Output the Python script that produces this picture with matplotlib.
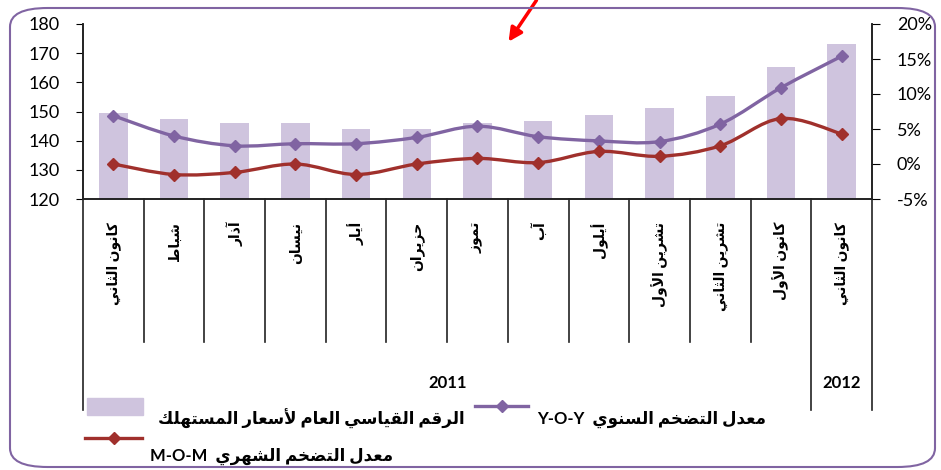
import matplotlib
matplotlib.use("Agg")
import matplotlib.pyplot as plt
from matplotlib.path import Path
from matplotlib.patches import PathPatch, Rectangle, FancyBboxPatch
from matplotlib.lines import Line2D

plt.rcParams['font.family'] = ['Lato', 'DejaVu Sans']

# data
months = ["كانون الثاني", "شباط", "آذار", "نيسان", "أيار", "حزيران", "تموز",
          "آب", "أيلول", "تشرين الأول", "تشرين الثاني", "كانون الأول", "كانون الثاني"]
years = ["2011", "2012"]
cpi = [149.4, 147.4, 146.0, 146.0, 144.1, 144.1, 146.0, 146.7, 148.7, 151.3, 155.3, 165.2, 173.1]
yoy = [6.9, 4.0, 2.6, 2.9, 2.9, 3.8, 5.4, 3.9, 3.3, 3.2, 5.7, 10.9, 15.4]
mom = [0.0, -1.5, -1.2, 0.0, -1.5, 0.0, 0.8, 0.2, 1.8, 1.1, 2.6, 6.5, 4.3]

lbl_cpi = "الرقم القياسي العام لأسعار المستهلك"
lbl_yoy = "معدل التضخم السنوي"
lbl_mom = "معدل التضخم الشهري"

# --- tiny arabic shaper (matplotlib has no shaping of its own) ---
FORMS = {
    'ا': (0xFE8D, 0xFE8E), 'أ': (0xFE83, 0xFE84), 'آ': (0xFE81, 0xFE82), 'إ': (0xFE87, 0xFE88),
    'د': (0xFEA9, 0xFEAA), 'ذ': (0xFEAB, 0xFEAC), 'ر': (0xFEAD, 0xFEAE), 'ز': (0xFEAF, 0xFEB0),
    'و': (0xFEED, 0xFEEE), 'ة': (0xFE93, 0xFE94),
    'ب': (0xFE8F, 0xFE90, 0xFE91, 0xFE92), 'ت': (0xFE95, 0xFE96, 0xFE97, 0xFE98),
    'ث': (0xFE99, 0xFE9A, 0xFE9B, 0xFE9C), 'ج': (0xFE9D, 0xFE9E, 0xFE9F, 0xFEA0),
    'ح': (0xFEA1, 0xFEA2, 0xFEA3, 0xFEA4), 'خ': (0xFEA5, 0xFEA6, 0xFEA7, 0xFEA8),
    'س': (0xFEB1, 0xFEB2, 0xFEB3, 0xFEB4), 'ش': (0xFEB5, 0xFEB6, 0xFEB7, 0xFEB8),
    'ض': (0xFEBD, 0xFEBE, 0xFEBF, 0xFEC0), 'ط': (0xFEC1, 0xFEC2, 0xFEC3, 0xFEC4),
    'ع': (0xFEC9, 0xFECA, 0xFECB, 0xFECC), 'ف': (0xFED1, 0xFED2, 0xFED3, 0xFED4),
    'ق': (0xFED5, 0xFED6, 0xFED7, 0xFED8), 'ك': (0xFED9, 0xFEDA, 0xFEDB, 0xFEDC),
    'ل': (0xFEDD, 0xFEDE, 0xFEDF, 0xFEE0), 'م': (0xFEE1, 0xFEE2, 0xFEE3, 0xFEE4),
    'ن': (0xFEE5, 0xFEE6, 0xFEE7, 0xFEE8), 'ه': (0xFEE9, 0xFEEA, 0xFEEB, 0xFEEC),
    'ي': (0xFEF1, 0xFEF2, 0xFEF3, 0xFEF4),
}
LAM_ALEF = {'آ': (0xFEF5, 0xFEF6), 'أ': (0xFEF7, 0xFEF8), 'إ': (0xFEF9, 0xFEFA), 'ا': (0xFEFB, 0xFEFC)}


def ar(text):
    units = []
    i = 0
    while i < len(text):
        c = text[i]
        if c == 'ل' and i + 1 < len(text) and text[i + 1] in LAM_ALEF:
            units.append(LAM_ALEF[text[i + 1]])
            i += 2
        else:
            units.append(FORMS.get(c, c))
            i += 1
    out = []
    for k, u in enumerate(units):
        if isinstance(u, str):
            out.append(u)
            continue
        prev = units[k - 1] if k > 0 else None
        nxt = units[k + 1] if k + 1 < len(units) else None
        jp = isinstance(prev, tuple) and len(prev) == 4
        jn = len(u) == 4 and isinstance(nxt, tuple)
        if jp and jn:
            cp = u[3]
        elif jp:
            cp = u[1]
        elif jn:
            cp = u[2]
        else:
            cp = u[0]
        out.append(chr(cp))
    return "".join(out)[::-1]


W, H = 941, 470
fig = plt.figure(figsize=(W / 100, H / 100), dpi=100)


def fx(px):
    return px / W


def fy(py):
    return 1 - py / H


ax = fig.add_axes([fx(83), fy(199), fx(872) - fx(83), fy(24) - fy(199)])
ax2 = ax.twinx()

x = list(range(len(months)))
ax.bar(x, cpi, width=0.47, color='#CFC4DE', zorder=1)
ax.set_xlim(-0.5, len(months) - 0.5)
ax.set_ylim(120, 180)
ax.set_yticks(range(120, 181, 10))
ax.set_xticks([])
ax.tick_params(axis='y', length=5, pad=12, labelsize=13, direction='out')

ax2.set_ylim(-5, 20)
ax2.set_yticks(range(-5, 21, 5))
ax2.set_yticklabels([f"{v}%" for v in range(-5, 21, 5)])
ax2.tick_params(axis='y', length=6, pad=12, labelsize=13, direction='out')

for a in (ax, ax2):
    a.spines['top'].set_visible(False)
    for s in ('left', 'right', 'bottom'):
        a.spines[s].set_color('#222222')
        a.spines[s].set_linewidth(1.2)


def smooth(axis, xs, ys, color):
    pts = list(zip(xs, ys))
    verts = [pts[0]]
    codes = [Path.MOVETO]
    for i in range(len(pts) - 1):
        p0 = pts[i - 1] if i > 0 else pts[i]
        p1, p2 = pts[i], pts[i + 1]
        p3 = pts[i + 2] if i + 2 < len(pts) else pts[i + 1]
        c1 = (p1[0] + (p2[0] - p0[0]) / 6, p1[1] + (p2[1] - p0[1]) / 6)
        c2 = (p2[0] - (p3[0] - p1[0]) / 6, p2[1] - (p3[1] - p1[1]) / 6)
        verts += [c1, c2, p2]
        codes += [Path.CURVE4] * 3
    axis.add_patch(PathPatch(Path(verts, codes), fill=False, edgecolor=color, lw=2.4, zorder=3))
    axis.plot(xs, ys, 'D', color=color, markersize=6, zorder=4)


smooth(ax2, x, yoy, '#8064A2')
smooth(ax2, x, mom, '#A0302C')

# category table under the plot
tr = ax.get_xaxis_transform()
for k in range(len(months) + 1):
    b = k - 0.5
    low = -1.206 if k in (0, 12, 13) else -0.817
    ax.plot([b, b], [0, low], color='#222222', lw=1.2, transform=tr, clip_on=False)
for i, m in enumerate(months):
    ax.text(i, -0.13, ar(m), transform=tr, rotation=90, ha='center', va='top',
            fontsize=10, fontweight='bold')
ax.text(5.5, -1.05, years[0], transform=tr, ha='center', va='center', fontsize=12, fontweight='bold')
ax.text(12, -1.05, years[1], transform=tr, ha='center', va='center', fontsize=12, fontweight='bold')

# legend drawn by hand
fig.patches.append(Rectangle((fx(87), fy(415)), fx(143) - fx(87), fy(398) - fy(415),
                             transform=fig.transFigure, color='#CFC4DE'))
fig.text(fx(465), fy(419), ar(lbl_cpi), ha='right', va='center', fontsize=12, fontweight='bold')
fig.lines.append(Line2D([fx(475), fx(501.5), fx(528)], [fy(406)] * 3, transform=fig.transFigure,
                        color='#8064A2', lw=2.4, marker='D', markevery=[1], markersize=6))
fig.text(fx(537), fy(419), "Y-O-Y  " + ar(lbl_yoy), ha='left', va='center', fontsize=12, fontweight='bold')
fig.lines.append(Line2D([fx(85), fx(113.5), fx(142)], [fy(438)] * 3, transform=fig.transFigure,
                        color='#A0302C', lw=2.4, marker='D', markevery=[1], markersize=6))
fig.text(fx(150), fy(456), "M-O-M  " + ar(lbl_mom), ha='left', va='center', fontsize=12, fontweight='bold')

# rounded frame and the red arrow
fig.patches.append(FancyBboxPatch((fx(10), fy(467)), fx(935) - fx(10), fy(8) - fy(467),
                                  boxstyle="round,pad=0,rounding_size=0.04", transform=fig.transFigure,
                                  fill=False, edgecolor='#8064A2', lw=1.5))
ax.annotate("", xy=(fx(507), fy(44)), xytext=(fx(538), fy(-2)), xycoords='figure fraction',
            textcoords='figure fraction',
            arrowprops=dict(arrowstyle='-|>,head_length=0.8,head_width=0.4', color='red', lw=2.5))

fig.savefig("out.png", dpi=100)
